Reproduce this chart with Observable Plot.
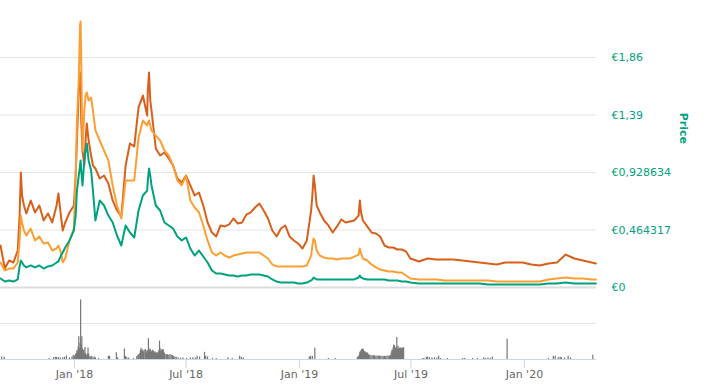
<!DOCTYPE html>
<html>
<head>
<meta charset="utf-8">
<script src="https://cdn.jsdelivr.net/npm/d3@7"></script>
<script src="https://cdn.jsdelivr.net/npm/@observablehq/plot@0.6"></script>
<style>
  html, body { margin: 0; padding: 0; background: #fff; }
  #chart { position: relative; width: 705px; height: 392px; overflow: hidden; }
  #chart svg { position: absolute; left: 0; top: 0; }
</style>
</head>
<body>
<div id="chart"></div>
<script>
// ---- price series (EUR) ----
const priceDates = [
"2017-09-03","2017-09-10","2017-09-17","2017-09-24","2017-10-01","2017-10-04","2017-10-06","2017-10-08","2017-10-11","2017-10-15",
"2017-10-22","2017-10-29","2017-11-05","2017-11-12","2017-11-19","2017-11-26","2017-12-03","2017-12-06","2017-12-10","2017-12-13",
"2017-12-17","2017-12-24","2017-12-31","2018-01-03","2018-01-05","2018-01-08","2018-01-10","2018-01-11","2018-01-12","2018-01-14",
"2018-01-17","2018-01-19","2018-01-21","2018-01-24","2018-01-28","2018-01-31","2018-02-04","2018-02-11","2018-02-18","2018-02-25",
"2018-03-04","2018-03-11","2018-03-18","2018-03-25","2018-04-01","2018-04-08","2018-04-15","2018-04-22","2018-04-29","2018-04-30",
"2018-05-02","2018-05-04","2018-05-06","2018-05-13","2018-05-20","2018-05-27","2018-06-03","2018-06-10","2018-06-17","2018-06-24",
"2018-07-01","2018-07-08","2018-07-15","2018-07-22","2018-07-29","2018-08-05","2018-08-12","2018-08-19","2018-08-26","2018-09-02",
"2018-09-09","2018-09-16","2018-09-23","2018-09-30","2018-10-07","2018-10-14","2018-10-21","2018-10-28","2018-11-04","2018-11-11",
"2018-11-18","2018-11-25","2018-12-02","2018-12-09","2018-12-16","2018-12-23","2018-12-30","2019-01-06","2019-01-13","2019-01-20",
"2019-01-22","2019-01-24","2019-01-26","2019-01-29","2019-02-03","2019-02-10","2019-02-17","2019-02-24","2019-03-03","2019-03-10",
"2019-03-17","2019-03-24","2019-03-31","2019-04-07","2019-04-09","2019-04-11","2019-04-14","2019-04-21","2019-04-28","2019-05-05",
"2019-05-12","2019-05-19","2019-05-26","2019-06-02","2019-06-09","2019-06-16","2019-06-23","2019-06-30","2019-07-14","2019-07-28",
"2019-08-11","2019-08-25","2019-09-08","2019-09-22","2019-10-06","2019-10-20","2019-11-03","2019-11-17","2019-12-01","2019-12-15",
"2019-12-29","2020-01-12","2020-01-26","2020-02-09","2020-02-23","2020-03-08","2020-03-22","2020-04-05","2020-04-19","2020-04-26"
];
const darkOrangeValues = [
0.339,0.153,0.218,0.202,0.299,0.581,0.929,0.743,0.662,0.598,
0.703,0.606,0.662,0.541,0.598,0.525,0.662,0.759,0.581,0.460,
0.525,0.606,0.662,0.904,1.187,1.591,1.712,1.736,1.349,1.106,
0.985,1.187,1.324,1.187,1.066,0.985,0.961,0.880,0.904,0.840,
0.703,0.622,0.573,0.985,1.163,1.139,1.454,1.550,1.389,1.591,
1.736,1.510,1.429,1.122,1.066,1.090,1.042,0.985,0.880,0.848,
0.904,0.824,0.743,0.767,0.662,0.525,0.444,0.412,0.501,0.493,
0.509,0.557,0.517,0.525,0.589,0.606,0.646,0.678,0.622,0.557,
0.460,0.412,0.476,0.501,0.412,0.380,0.355,0.315,0.380,0.622,
0.743,0.904,0.824,0.662,0.606,0.541,0.501,0.444,0.493,0.549,
0.525,0.533,0.541,0.581,0.703,0.606,0.541,0.493,0.444,0.436,
0.412,0.339,0.323,0.323,0.307,0.307,0.291,0.234,0.210,0.234,
0.226,0.226,0.226,0.218,0.210,0.202,0.194,0.186,0.202,0.202,
0.202,0.186,0.178,0.194,0.202,0.266,0.234,0.218,0.202,0.194
];
const lightOrangeValues = [
0.202,0.137,0.153,0.153,0.202,0.380,0.581,0.525,0.460,0.420,
0.476,0.380,0.412,0.355,0.363,0.299,0.315,0.339,0.283,0.202,
0.234,0.380,0.476,0.904,1.349,1.672,2.116,2.148,1.833,1.106,
1.429,1.550,1.575,1.510,1.534,1.429,1.268,1.187,1.106,1.026,
0.824,0.662,0.557,0.864,0.864,0.864,1.211,1.349,1.308,1.332,
1.349,1.308,1.268,1.227,1.187,1.106,1.066,0.985,0.864,0.824,
0.904,0.703,0.646,0.606,0.501,0.380,0.283,0.258,0.283,0.258,
0.242,0.258,0.266,0.275,0.283,0.283,0.283,0.283,0.258,0.234,
0.186,0.170,0.170,0.170,0.170,0.170,0.170,0.170,0.178,0.258,
0.339,0.396,0.380,0.299,0.258,0.242,0.234,0.234,0.226,0.234,
0.234,0.234,0.250,0.266,0.315,0.275,0.234,0.218,0.186,0.162,
0.145,0.137,0.129,0.129,0.121,0.121,0.097,0.073,0.065,0.065,
0.065,0.057,0.057,0.057,0.057,0.057,0.057,0.048,0.048,0.048,
0.048,0.048,0.048,0.065,0.073,0.081,0.073,0.073,0.065,0.065
];
const greenValues = [
0.073,0.048,0.057,0.048,0.065,0.170,0.218,0.202,0.178,0.162,
0.178,0.162,0.178,0.153,0.170,0.178,0.202,0.210,0.258,0.283,
0.323,0.380,0.460,0.581,0.783,0.904,0.985,1.026,0.945,0.824,
1.026,1.106,1.163,1.026,0.945,0.783,0.541,0.703,0.662,0.581,
0.525,0.420,0.339,0.501,0.444,0.404,0.622,0.743,0.783,0.864,
0.961,0.904,0.824,0.662,0.622,0.525,0.501,0.476,0.412,0.380,
0.404,0.315,0.258,0.299,0.250,0.202,0.137,0.113,0.113,0.105,
0.097,0.097,0.089,0.097,0.097,0.105,0.105,0.105,0.097,0.089,
0.065,0.048,0.040,0.040,0.040,0.040,0.032,0.032,0.040,0.057,
0.065,0.081,0.073,0.065,0.065,0.065,0.065,0.065,0.065,0.065,
0.065,0.065,0.065,0.081,0.097,0.081,0.073,0.065,0.065,0.065,
0.065,0.065,0.057,0.057,0.057,0.048,0.048,0.040,0.032,0.032,
0.032,0.032,0.032,0.032,0.032,0.032,0.024,0.024,0.024,0.024,
0.024,0.024,0.024,0.032,0.032,0.040,0.032,0.032,0.032,0.032
];

// ---- volume (relative units) ----
const volumeDates = [
"2017-09-05","2017-09-09","2017-11-21","2017-11-28","2017-12-01","2017-12-03","2017-12-06","2017-12-09","2017-12-13","2017-12-16",
"2017-12-19","2017-12-24","2017-12-28","2017-12-30","2018-01-01","2018-01-03","2018-01-04","2018-01-05","2018-01-06","2018-01-07",
"2018-01-08","2018-01-09","2018-01-10","2018-01-11","2018-01-12","2018-01-13","2018-01-14","2018-01-15","2018-01-16","2018-01-17",
"2018-01-18","2018-01-19","2018-01-20","2018-01-21","2018-01-22","2018-01-23","2018-01-24","2018-01-26","2018-01-27","2018-01-29",
"2018-01-31","2018-02-02","2018-02-04","2018-02-09","2018-02-25","2018-02-27","2018-03-10","2018-03-12","2018-03-23","2018-03-25",
"2018-03-27","2018-03-30","2018-04-07","2018-04-12","2018-04-14","2018-04-15","2018-04-17","2018-04-18","2018-04-19","2018-04-20",
"2018-04-21","2018-04-22","2018-04-23","2018-04-24","2018-04-26","2018-04-27","2018-04-28","2018-04-29","2018-04-30","2018-05-01",
"2018-05-02","2018-05-03","2018-05-04","2018-05-05","2018-05-06","2018-05-07","2018-05-08","2018-05-09","2018-05-10","2018-05-11",
"2018-05-12","2018-05-13","2018-05-14","2018-05-15","2018-05-16","2018-05-17","2018-05-18","2018-05-19","2018-05-20","2018-05-21",
"2018-05-22","2018-05-23","2018-05-24","2018-05-25","2018-05-26","2018-05-27","2018-05-28","2018-05-30","2018-06-01","2018-06-03",
"2018-06-05","2018-06-07","2018-06-09","2018-06-11","2018-06-13","2018-06-15","2018-06-18","2018-06-22","2018-06-26","2018-07-02",
"2018-07-08","2018-07-12","2018-07-16","2018-07-19","2018-07-23","2018-07-31","2018-08-02","2018-08-05","2018-08-13","2018-08-19",
"2018-09-07","2018-09-14","2018-09-26","2018-09-29","2018-10-02","2019-01-17","2019-01-19","2019-01-22","2019-01-26","2019-02-17",
"2019-02-28","2019-04-05","2019-04-07","2019-04-08","2019-04-09","2019-04-10","2019-04-11","2019-04-12","2019-04-13","2019-04-14",
"2019-04-15","2019-04-16","2019-04-17","2019-04-18","2019-04-19","2019-04-20","2019-04-21","2019-04-22","2019-04-23","2019-04-25",
"2019-04-27","2019-04-29","2019-05-01","2019-05-03","2019-05-05","2019-05-07","2019-05-09","2019-05-11","2019-05-13","2019-05-15",
"2019-05-17","2019-05-19","2019-05-21","2019-05-23","2019-05-25","2019-05-27","2019-05-29","2019-05-30","2019-05-31","2019-06-01",
"2019-06-02","2019-06-03","2019-06-04","2019-06-05","2019-06-06","2019-06-07","2019-06-08","2019-06-09","2019-06-10","2019-06-11",
"2019-06-12","2019-06-13","2019-06-14","2019-06-15","2019-06-16","2019-06-17","2019-06-18","2019-06-19","2019-07-20","2019-07-22",
"2019-07-26","2019-07-28","2019-07-31","2019-08-04","2019-08-08","2019-08-12","2019-08-15","2019-08-18","2019-08-29","2019-09-23",
"2019-09-26","2019-10-09","2019-10-17","2019-10-27","2019-10-30","2019-11-03","2019-11-07","2019-11-10","2019-12-04","2020-02-09",
"2020-02-17","2020-02-20","2020-02-25","2020-02-28","2020-03-01","2020-03-06","2020-03-12","2020-03-16","2020-04-21"
];
const volumeValues = [
0.07,0.06,0.03,0.05,0.06,0.06,0.05,0.04,0.05,0.06,
0.10,0.05,0.07,0.12,0.10,0.15,0.17,0.25,0.22,0.35,
0.63,0.30,0.45,1.65,0.40,0.63,0.30,0.25,0.26,0.15,
0.33,0.17,0.10,0.12,0.15,0.32,0.15,0.08,0.06,0.09,
0.05,0.07,0.05,0.03,0.09,0.09,0.19,0.05,0.29,0.08,
0.05,0.04,0.03,0.08,0.12,0.13,0.17,0.25,0.31,0.22,
0.27,0.23,0.20,0.26,0.28,0.22,0.18,0.25,0.20,0.58,
0.30,0.22,0.28,0.24,0.20,0.23,0.26,0.23,0.21,0.17,
0.21,0.19,0.16,0.19,0.15,0.20,0.25,0.51,0.30,0.24,
0.22,0.28,0.25,0.28,0.20,0.17,0.13,0.14,0.13,0.12,
0.14,0.12,0.11,0.08,0.06,0.06,0.05,0.04,0.04,0.03,
0.04,0.05,0.04,0.09,0.07,0.20,0.09,0.07,0.03,0.03,
0.05,0.03,0.09,0.06,0.04,0.07,0.09,0.08,0.31,0.03,
0.03,0.06,0.08,0.12,0.20,0.21,0.25,0.28,0.28,0.29,
0.26,0.22,0.20,0.21,0.18,0.17,0.19,0.15,0.13,0.12,
0.11,0.10,0.11,0.10,0.09,0.10,0.09,0.10,0.08,0.09,
0.08,0.09,0.08,0.10,0.09,0.10,0.11,0.18,0.26,0.25,
0.32,0.40,0.38,0.30,0.31,0.35,0.61,0.30,0.37,0.28,
0.32,0.30,0.31,0.32,0.28,0.32,0.30,0.33,0.03,0.03,
0.06,0.06,0.05,0.04,0.05,0.04,0.09,0.03,0.03,0.03,
0.03,0.03,0.03,0.04,0.03,0.04,0.03,0.07,0.56,0.03,
0.09,0.09,0.05,0.06,0.05,0.04,0.09,0.04,0.12
];

// ---- axes ----
const priceTicks = [0, 0.464317, 0.928634, 1.392951, 1.857268];
const priceTickLabels = ["€0", "€0,464317", "€0,928634", "€1,39", "€1,86"];
const timeTicks = ["2018-01-01", "2018-07-01", "2019-01-01", "2019-07-01", "2020-01-01"];
const timeTickLabels = ["Jan '18", "Jul '18", "Jan '19", "Jul '19", "Jan '20"];
const xStart = "2017-09-03", xEnd = "2020-04-27";

const GREEN = "#00a27d", LIGHT = "#fb9f34", DARK = "#d95f1b";

const dark = priceDates.map((d, i) => ({date: new Date(d), v: darkOrangeValues[i]}));
const light = priceDates.map((d, i) => ({date: new Date(d), v: lightOrangeValues[i]}));
const green = priceDates.map((d, i) => ({date: new Date(d), v: greenValues[i]}));
const volume = volumeDates.map((d, i) => ({date: new Date(d), v: volumeValues[i]}));
const xTickDates = timeTicks.map(d => new Date(d));

const common = {
  width: 705, height: 392, marginLeft: 0, marginRight: 109,
  style: {fontFamily: "'DejaVu Sans', sans-serif", fontSize: "11px", background: "transparent", overflow: "visible"},
  x: {type: "utc", domain: [new Date(xStart), new Date(xEnd)], axis: null}
};

const pricePlot = Plot.plot({
  ...common,
  marginTop: 0, marginBottom: 105,
  y: {domain: [0, 2.3175], axis: null},
  marks: [
    Plot.ruleY(priceTicks.slice(1), {stroke: "#e6e6e6", strokeWidth: 1}),
    Plot.ruleY([0], {stroke: "#dcdcdc", strokeWidth: 2}),
    Plot.axisY({anchor: "right", ticks: priceTicks, tickSize: 0, tickPadding: 15,
      tickFormat: d => priceTickLabels[priceTicks.indexOf(d)], fill: GREEN, label: null}),
    Plot.line(dark, {x: "date", y: "v", stroke: DARK, strokeWidth: 2, strokeLinejoin: "round"}),
    Plot.line(light, {x: "date", y: "v", stroke: LIGHT, strokeWidth: 2, strokeLinejoin: "round"}),
    Plot.line(green, {x: "date", y: "v", stroke: GREEN, strokeWidth: 2, strokeLinejoin: "round"}),
    Plot.text(["Price"], {frameAnchor: "right", dx: 87, rotate: 90, fill: GREEN, fontWeight: "bold", fontSize: 11})
  ]
});

const volumePlot = Plot.plot({
  ...common,
  marginTop: 287, marginBottom: 33,
  y: {domain: [0, 2], axis: null},
  marks: [
    Plot.ruleY([1], {stroke: "#e6e6e6", strokeWidth: 1}),
    Plot.ruleX(volume, {x: "date", y: "v", stroke: "#777", strokeWidth: 1.2}),
    Plot.ruleY([0], {stroke: "#ccd6eb", strokeWidth: 1}),
    Plot.axisX({ticks: xTickDates, tickSize: 9, tickPadding: 2,
      tickFormat: d => timeTickLabels[xTickDates.findIndex(t => +t === +d)],
      stroke: "#ccd6eb", fill: "#666", label: null})
  ]
});

const chart = document.getElementById("chart");
chart.appendChild(pricePlot);
chart.appendChild(volumePlot);
</script>
</body>
</html>
